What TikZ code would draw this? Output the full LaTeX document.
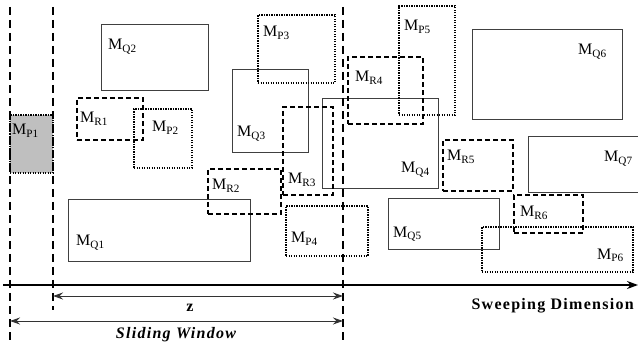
\documentclass[tikz,border=0pt]{standalone}
\usepackage{fontspec}
\setmainfont{Liberation Serif}
\usetikzlibrary{arrows.meta}

\begin{document}
\begin{tikzpicture}[x=1pt, y=-1pt]
\tikzstyle{qbox} = [rectangle, draw=black!75, line width=0.9pt, inner sep=0pt, outer sep=0pt]
\tikzstyle{pbox} = [rectangle, draw=black, line width=1.4pt, dash pattern=on 1.4pt off 1.1pt, inner sep=0pt, outer sep=0pt]
\tikzstyle{rbox} = [rectangle, draw=black, line width=1.4pt, dash pattern=on 5pt off 3pt, inner sep=0pt, outer sep=0pt]
\tikzstyle{lbl} = [anchor=base west, inner sep=0pt, font=\fontsize{16}{18}\selectfont]
\tikzstyle{window} = [line width=1.4pt, dash pattern=on 8pt off 5pt]
\tikzstyle{measure} = [draw=black!80, line width=1pt, {Stealth[length=10pt,width=7pt]}-{Stealth[length=10pt,width=7pt]}]
\tikzstyle{caption} = [inner sep=0pt, font=\bfseries\fontsize{16}{18}\selectfont\addfontfeature{LetterSpace=8}]

\useasboundingbox (0,0) rectangle (638,350);

% Window
\node (p1) [pbox, fill=black!25, minimum width=43pt, minimum height=58pt] at (31.5,144) {};
\coordinate (wl top) at (10,7);
\coordinate (wl bot) at (10,343);
\coordinate (wm top) at (53,7);
\coordinate (wm bot) at (53,310);
\coordinate (wr top) at (343,7);
\coordinate (wr bot) at (343,343);

% Q rectangles
\node (q1) [qbox, minimum width=182pt, minimum height=62pt] at (159,230) {};
\node (q2) [qbox, minimum width=107pt, minimum height=66pt] at (154.5,57) {};
\node (q3) [qbox, minimum width=76pt, minimum height=83pt] at (270,110.5) {};
\node (q4) [qbox, minimum width=116pt, minimum height=90pt] at (380,143) {};
\node (q5) [qbox, minimum width=111pt, minimum height=51pt] at (443.5,223.5) {};
\node (q6) [qbox, minimum width=150pt, minimum height=90pt] at (547,74) {};
\node (q7) [qbox, minimum width=117pt, minimum height=56pt] at (586.5,164) {};

% P rectangles
\node (p2) [pbox, minimum width=58pt, minimum height=59pt] at (163,138.5) {};
\node (p3) [pbox, minimum width=77pt, minimum height=68pt] at (296.5,49) {};
\node (p4) [pbox, minimum width=82pt, minimum height=50pt] at (327,231) {};
\node (p5) [pbox, minimum width=56pt, minimum height=109pt] at (427,60.5) {};
\node (p6) [pbox, minimum width=151pt, minimum height=45pt] at (557.5,249.5) {};

% R rectangles
\node (r1) [rbox, minimum width=66pt, minimum height=42pt] at (110,119) {};
\node (r2) [rbox, minimum width=73pt, minimum height=45pt] at (244.5,191.5) {};
\node (r3) [rbox, minimum width=50pt, minimum height=88pt] at (308,151) {};
\node (r4) [rbox, minimum width=75pt, minimum height=67pt] at (385.5,90.5) {};
\node (r5) [rbox, minimum width=70pt, minimum height=51pt] at (478,165.5) {};
\node (r6) [rbox, minimum width=69pt, minimum height=38pt] at (548.5,214) {};

% Labels
\node (lp1) [lbl] at (12,135) {M\textsubscript{P1}};
\node (lp2) [lbl] at (152,132) {M\textsubscript{P2}};
\node (lp3) [lbl] at (263,37) {M\textsubscript{P3}};
\node (lp4) [lbl] at (291,243) {M\textsubscript{P4}};
\node (lp5) [lbl] at (404,31) {M\textsubscript{P5}};
\node (lp6) [lbl] at (597,259) {M\textsubscript{P6}};
\node (lq1) [lbl] at (76,246) {M\textsubscript{Q1}};
\node (lq2) [lbl] at (108,50) {M\textsubscript{Q2}};
\node (lq3) [lbl] at (237,137) {M\textsubscript{Q3}};
\node (lq4) [lbl] at (401,173) {M\textsubscript{Q4}};
\node (lq5) [lbl] at (393,237) {M\textsubscript{Q5}};
\node (lq6) [lbl] at (578,55) {M\textsubscript{Q6}};
\node (lq7) [lbl] at (604,162) {M\textsubscript{Q7}};
\node (lr1) [lbl] at (80,123) {M\textsubscript{R1}};
\node (lr2) [lbl] at (212,190) {M\textsubscript{R2}};
\node (lr3) [lbl] at (288,184) {M\textsubscript{R3}};
\node (lr4) [lbl] at (355,82) {M\textsubscript{R4}};
\node (lr5) [lbl] at (447,161) {M\textsubscript{R5}};
\node (lr6) [lbl] at (520,217) {M\textsubscript{R6}};

% Axis and measures
\coordinate (ax start) at (3,285);
\coordinate (ax end) at (638,285);
\coordinate (z left) at (53,296);
\coordinate (z right) at (343,296);
\coordinate (sw left) at (10,321);
\coordinate (sw right) at (343,321);

\node (sweep) [caption, anchor=base east] at (634,309) {Sweeping Dimension};
\node (zlbl) [caption, anchor=base] at (190,312) {z};
\node (slide) [caption, anchor=base] at (176,338) {\itshape Sliding Window};

% Draws
\draw [window] (wl top) -- (wl bot);
\draw [window] (wm top) -- (wm bot);
\draw [window] (wr top) -- (wr bot);
\draw [line width=1.6pt, -{Stealth[length=11pt,width=8pt]}] (ax start) -- (ax end);
\draw [measure] (z left) -- (z right);
\draw [measure] (sw left) -- (sw right);
\end{tikzpicture}
\end{document}
